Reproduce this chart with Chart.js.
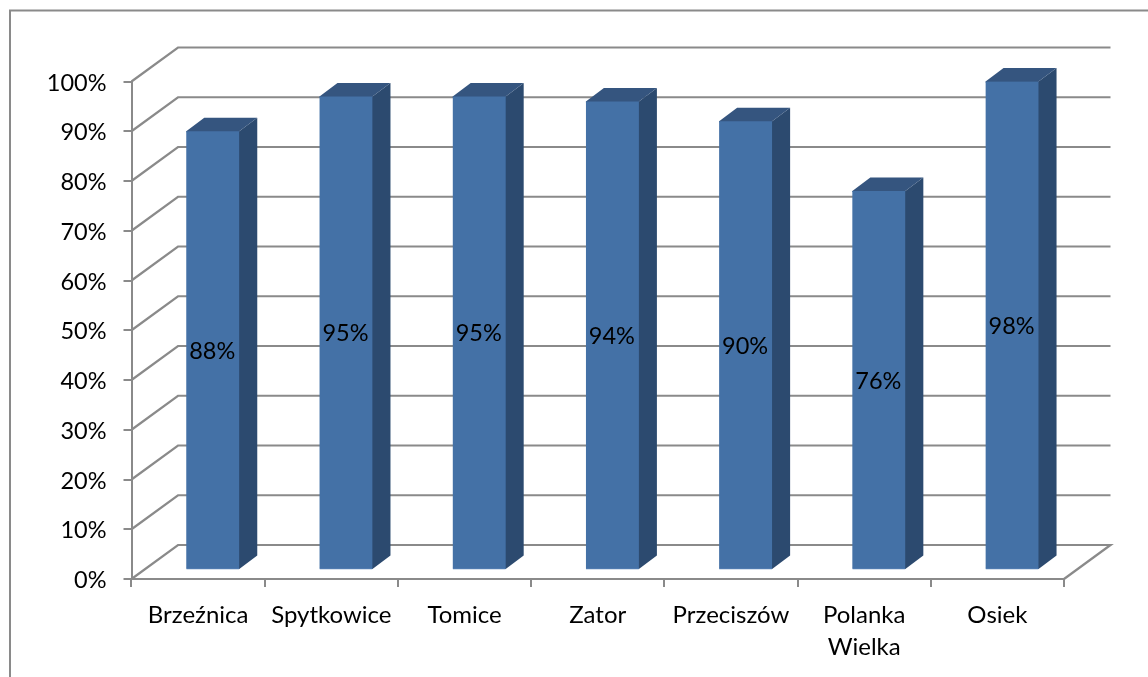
<!DOCTYPE html>
<html>
<head>
<meta charset="utf-8">
<title>Wykres</title>
<script src="https://cdn.jsdelivr.net/npm/chart.js@4"></script>
<style>
html, body { margin: 0; padding: 0; background: #fff; overflow: hidden; }
canvas { display: block; }
</style>
</head>
<body>
<canvas id="myChart" width="1148" height="677"></canvas>
<script>
var categories = ['Brzeźnica', 'Spytkowice', 'Tomice', 'Zator', 'Przeciszów', ['Polanka', 'Wielka'], 'Osiek'];
var values = [88, 95, 95, 94, 90, 76, 98];
var tickStep = 10;
var tickMax = 100;

var FONT = { family: 'Lato', size: 23.5, lineHeight: 1.35 };
var XFONT = { family: 'Lato', size: 24, lineHeight: 1.33 };
var LINE = '#8a8a8a';
// how far the back wall and the bar sides are pushed in the fake 3D
var WALL_DX = 46.5, WALL_DY = 34;
var BAR_DX = 18, BAR_DY = 13.5;

var fake3d = {
	id: 'fake3d',
	beforeDraw: function(chart){
		var c = chart.ctx;
		c.save();
		c.fillStyle = '#fff';
		c.fillRect(0, 0, chart.width, chart.height);
		c.strokeStyle = LINE;
		c.lineWidth = 2;
		c.beginPath();
		c.moveTo(10, chart.height);
		c.lineTo(10, 10.5);
		c.lineTo(chart.width, 10.5);
		c.stroke();
		c.restore();
	},
	beforeDatasetsDraw: function(chart){
		var c = chart.ctx, a = chart.chartArea, y = chart.scales.y;
		c.save();
		c.strokeStyle = LINE;
		c.lineWidth = 2.2;
		for (var v = 0; v <= tickMax; v += tickStep){
			var py = y.getPixelForValue(v);
			c.beginPath();
			c.moveTo(a.left, py);
			c.lineTo(a.left + WALL_DX, py - WALL_DY);
			c.lineTo(a.right + WALL_DX, py - WALL_DY);
			if (v == 0) c.lineTo(a.right, py);
			c.stroke();
		}
		// sides and tops go under the front faces so no seam shows
		var bars = chart.getDatasetMeta(0).data;
		for (var i = 0; i < bars.length; i++){
			var b = bars[i];
			var l = b.x - b.width / 2, r = b.x + b.width / 2;
			c.fillStyle = '#2c4a6f';
			c.beginPath();
			c.moveTo(r - 1, b.y);
			c.lineTo(r, b.y);
			c.lineTo(r + BAR_DX, b.y - BAR_DY);
			c.lineTo(r + BAR_DX, b.base - BAR_DY);
			c.lineTo(r, b.base);
			c.lineTo(r - 1, b.base);
			c.closePath();
			c.fill();
			c.fillStyle = '#35557f';
			c.beginPath();
			c.moveTo(l, b.y);
			c.lineTo(l + BAR_DX, b.y - BAR_DY);
			c.lineTo(r + BAR_DX, b.y - BAR_DY);
			c.lineTo(r, b.y);
			c.lineTo(r, b.y + 1);
			c.lineTo(l, b.y + 1);
			c.closePath();
			c.fill();
		}
		c.restore();
	},
	afterDatasetsDraw: function(chart){
		var c = chart.ctx;
		var bars = chart.getDatasetMeta(0).data;
		c.save();
		c.fillStyle = '#000';
		c.font = FONT.size + 'px ' + FONT.family;
		c.textAlign = 'center';
		c.textBaseline = 'middle';
		for (var i = 0; i < bars.length; i++){
			var b = bars[i];
			c.fillText(values[i] + '%', b.x - 0.5, (b.y + b.base) / 2 + 1);
		}
		c.restore();
	}
};

var barData = [];
for (var i = 0; i < values.length; i++){
	barData.push({ x: i, y: values[i] });
}

var ctx = document.getElementById('myChart');
var myChart = new Chart(ctx, {
	type: 'bar',
	plugins: [fake3d],
	data: {
		labels: categories,
		datasets: [{
			data: barData,
			xAxisID: 'xBars',
			yAxisID: 'yBars',
			backgroundColor: '#4471a6',
			borderColor: '#5a85b8',
			borderWidth: { bottom: 1 },
			borderSkipped: false,
			barThickness: 53,
			clip: false
		}]
	},
	options: {
		responsive: false,
		animation: false,
		layout: { padding: { left: 0, top: 81.5, right: 84, bottom: 0 } },
		plugins: { legend: { display: false }, tooltip: { enabled: false } },
		scales: {
			x: {
				type: 'category',
				offset: true,
				grid: { offset: true, drawOnChartArea: false, color: LINE, lineWidth: 2, tickLength: 8 },
				border: { color: LINE, width: 2 },
				ticks: { color: '#000', font: XFONT, maxRotation: 0, autoSkip: false, padding: 12 },
				afterFit: function(s){ s.height = 98; }
			},
			y: {
				type: 'linear',
				min: 0,
				max: tickMax,
				grid: { drawOnChartArea: false, color: LINE, lineWidth: 2, tickLength: 8 },
				border: { color: LINE, width: 2 },
				ticks: { color: '#000', font: FONT, stepSize: tickStep, padding: 17, labelOffset: 1.5,
					callback: function(v){ return v + '%'; } },
				afterFit: function(s){ s.width = 131.5; }
			},
			// same sizes as the drawn axes, shifted so bars stand on the floor
			xBars: { type: 'linear', axis: 'x', display: false, offset: false, min: -0.61, max: 6.39 },
			yBars: { type: 'linear', axis: 'y', display: false, min: -2, max: 98 }
		}
	}
});
</script>
</body>
</html>
